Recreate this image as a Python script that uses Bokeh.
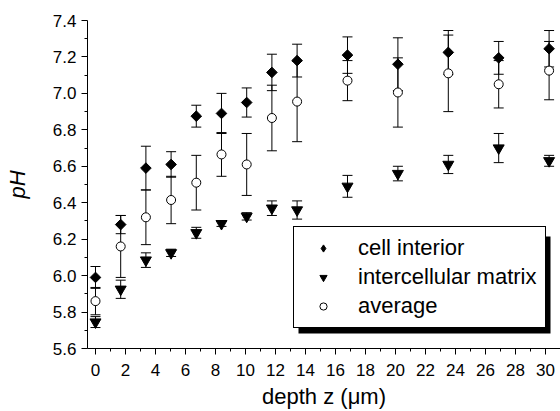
import numpy as np
from bokeh.plotting import figure
from bokeh.models import (Range1d, FixedTicker, PrintfTickFormatter, Legend,
                          LegendItem, BoxAnnotation)
from bokeh.embed import file_html
from bokeh.resources import INLINE

# ---- data ----
depth_um = [0, 1.68, 3.36, 5.04, 6.72, 8.40, 10.08, 11.76, 13.44,
            16.80, 20.16, 23.52, 26.88, 30.24]

cell_interior_ph = [5.99, 6.28, 6.59, 6.61, 6.875, 6.89, 6.95, 7.115, 7.18,
                    7.21, 7.16, 7.225, 7.195, 7.245]
cell_interior_err = [0.06, 0.05, 0.12, 0.07, 0.06, 0.11, 0.08, 0.10, 0.09,
                     0.10, 0.145, 0.12, 0.09, 0.10]

matrix_ph = [5.745, 5.925, 6.085, 6.125, 6.235, 6.285, 6.325, 6.37, 6.36,
             6.49, 6.56, 6.61, 6.70, 6.63]
matrix_err = [0.03, 0.05, 0.04, 0.02, 0.03, 0.015, 0.02, 0.04, 0.05,
              0.06, 0.04, 0.05, 0.08, 0.03]

average_ph = [5.86, 6.16, 6.32, 6.415, 6.51, 6.665, 6.61, 6.865, 6.955,
              7.07, 7.005, 7.11, 7.05, 7.125]
average_err = [0.075, 0.17, 0.15, 0.13, 0.15, 0.12, 0.17, 0.18, 0.22,
               0.11, 0.19, 0.21, 0.13, 0.16]

series_labels = ["cell interior", "intercellular matrix", "average"]

x_major_ticks = [0, 2, 4, 6, 8, 10, 12, 14, 16, 18, 20, 22, 24, 26, 28, 30]
x_minor_ticks = [1, 3, 5, 7, 9, 11, 13, 15, 17, 19, 21, 23, 25, 27, 29, 31]
y_major_ticks = [5.6, 5.8, 6.0, 6.2, 6.4, 6.6, 6.8, 7.0, 7.2, 7.4]
y_minor_ticks = [5.7, 5.9, 6.1, 6.3, 6.5, 6.7, 6.9, 7.1, 7.3]

FONT = "Liberation Sans"

p = figure(width=560, height=411,
           x_range=Range1d(-0.533, 31.0), y_range=Range1d(5.6, 7.4),
           output_backend="svg", toolbar_location=None,
           min_border_left=87, min_border_right=0,
           min_border_top=20, min_border_bottom=62)
p.outline_line_color = None
p.xgrid.visible = False
p.ygrid.visible = False
p.background_fill_color = "white"
p.border_fill_color = "white"

# axes
p.xaxis.ticker = FixedTicker(ticks=x_major_ticks, minor_ticks=x_minor_ticks)
p.yaxis.ticker = FixedTicker(ticks=y_major_ticks, minor_ticks=y_minor_ticks)
p.yaxis.formatter = PrintfTickFormatter(format="%.1f")
for ax in (p.xaxis, p.yaxis):
    ax.axis_line_color = "black"
    ax.axis_line_width = 1
    ax.major_tick_line_color = "black"
    ax.minor_tick_line_color = "black"
    ax.major_tick_in = 0
    ax.major_tick_out = 6
    ax.minor_tick_in = 0
    ax.minor_tick_out = 3
    ax.major_label_text_font = FONT
    ax.major_label_text_font_size = "17px"
    ax.major_label_text_color = "black"
    ax.axis_label_text_font = FONT
    ax.axis_label_text_color = "black"

p.xaxis.major_label_standoff = 9
p.yaxis.major_label_standoff = 5
p.xaxis.axis_label = "depth z (μm)"
p.xaxis.axis_label_text_font_size = "22px"
p.xaxis.axis_label_text_font_style = "normal"
p.xaxis.axis_label_standoff = 5
p.yaxis.axis_label = "pH"
p.yaxis.axis_label_text_font_size = "22px"
p.yaxis.axis_label_text_font_style = "italic"
p.yaxis.axis_label_standoff = 20

# error bars (drawn first, under the markers)
depth_arr = np.array(depth_um, dtype=float)
for ph, err in ((cell_interior_ph, cell_interior_err),
                (matrix_ph, matrix_err),
                (average_ph, average_err)):
    ph_a = np.array(ph)
    err_a = np.array(err)
    lo = ph_a - err_a
    hi = ph_a + err_a
    p.segment(x0=depth_arr, y0=lo, x1=depth_arr, y1=hi,
              line_color="black", line_width=1)
    p.scatter(x=np.concatenate([depth_arr, depth_arr]),
              y=np.concatenate([lo, hi]),
              marker="dash", size=10, line_color="black", line_width=1)

p.scatter(depth_um, cell_interior_ph, marker="square", angle=np.pi / 4,
          size=7.5, fill_color="black", line_color="black")
r_matrix = p.scatter(depth_um, matrix_ph, marker="inverted_triangle", size=11,
                     fill_color="black", line_color="black")
r_avg = p.scatter(depth_um, average_ph, marker="circle", size=9,
                  fill_color="white", line_color="black", line_width=1)
# hidden twin of the diamonds, only used for the legend swatch
r_cell_key = p.scatter(depth_um, cell_interior_ph, marker="diamond", size=11,
                       fill_color="black", line_color="black", visible=False)

# legend shadow
shadow = BoxAnnotation(left=211, right=463, bottom=15, top=112,
                       left_units="screen", right_units="screen",
                       top_units="screen", bottom_units="screen",
                       fill_color="black", fill_alpha=1.0,
                       line_color=None)
p.add_layout(shadow)

legend = Legend(items=[LegendItem(label=series_labels[0], renderers=[r_cell_key]),
                       LegendItem(label=series_labels[1], renderers=[r_matrix]),
                       LegendItem(label=series_labels[2], renderers=[r_avg])],
                location=(206, 20))
legend.label_text_font = FONT
legend.label_text_font_size = "22px"
legend.label_text_color = "black"
legend.border_line_color = "black"
legend.border_line_width = 1
legend.border_line_alpha = 1
legend.background_fill_color = "white"
legend.background_fill_alpha = 1
legend.padding = 8
legend.spacing = 3
legend.margin = 0
legend.glyph_width = 42
legend.glyph_height = 18
legend.label_height = 25
legend.label_standoff = 14
p.add_layout(legend)

open("out.html", "w").write(file_html(p, INLINE))
